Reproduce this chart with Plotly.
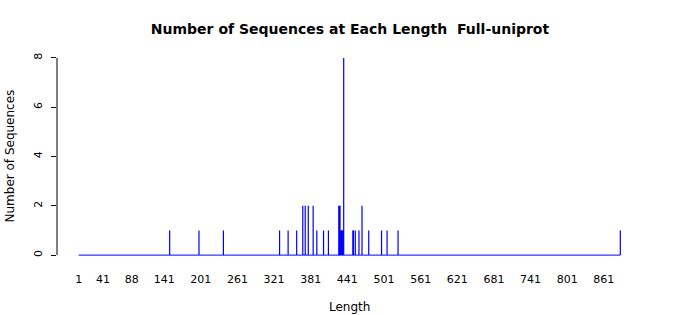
import plotly.graph_objects as go

# Data
lengths = [150, 198, 238, 330, 344, 358, 368, 372, 377, 385, 391, 402, 410,
           427, 428, 429, 430, 431, 432, 433, 434, 435, 450, 451, 454, 460,
           465, 476, 497, 506, 524, 888]
counts = [1, 1, 1, 1, 1, 1, 2, 2, 2, 2, 1, 1, 1,
          2, 2, 2, 1, 1, 1, 1, 1, 8, 1, 1, 1, 1,
          2, 1, 1, 1, 1, 1]
min_len, max_len = 1, 888
x_tick_vals = [1, 41, 88, 141, 201, 261, 321, 381, 441, 501, 561, 621, 681, 741, 801, 861]
y_tick_vals = [0, 2, 4, 6, 8]

FONT = "DejaVu Sans"
BLUE = "#0000FF"
W, H = 700, 315

# Build "h"-type vertical line segments
xs, ys = [], []
for L, c in zip(lengths, counts):
    xs += [L, L, None]
    ys += [0, c, None]

fig = go.Figure()
fig.add_trace(go.Scatter(x=[min_len, max_len], y=[0, 0], mode="lines",
                         line=dict(color=BLUE, width=1), hoverinfo="skip",
                         showlegend=False))
fig.add_trace(go.Scatter(x=xs, y=ys, mode="lines",
                         line=dict(color=BLUE, width=1.2), showlegend=False))

span_x = max_len - min_len
ymax = max(y_tick_vals)
fig.update_layout(
    width=W, height=H,
    margin=dict(l=57, r=58, t=50, b=52, autoexpand=False),
    paper_bgcolor="white", plot_bgcolor="white",
    font=dict(family=FONT, size=11, color="black"),
    title=dict(text="<b>Number of Sequences at Each Length  Full-uniprot</b>",
               x=0.5, xanchor="center", y=1 - 29 / H, yanchor="middle",
               font=dict(family=FONT, size=14, color="black")),
    xaxis=dict(range=[min_len - 0.04 * span_x, max_len + 0.04 * span_x],
               tickmode="array", tickvals=x_tick_vals,
               ticktext=[str(v) for v in x_tick_vals],
               showgrid=False, zeroline=False, showline=False,
               ticks="outside", ticklen=6, tickcolor="rgba(0,0,0,0)",
               tickfont=dict(size=11), automargin=False),
    yaxis=dict(range=[-0.04 * ymax, ymax * 1.04],
               tickmode="array", tickvals=y_tick_vals,
               ticktext=[str(v) for v in y_tick_vals],
               showgrid=False, zeroline=False, showline=False,
               ticks="outside", ticklen=5, tickcolor="black",
               tickangle=-90, tickfont=dict(size=11),
               ticklabelstandoff=5, automargin=False),
    shapes=[dict(type="line", xref="paper", x0=0, x1=0, yref="y", y0=0, y1=ymax,
                 line=dict(color="black", width=1))],
    annotations=[
        dict(text="Length", xref="paper", x=0.5, yref="paper",
             y=-(307 - (H - 52)) / (H - 50 - 52), xanchor="center", yanchor="middle",
             showarrow=False, font=dict(size=12)),
        dict(text="Number of Sequences", xref="paper", x=-(57 - 9) / (W - 57 - 58),
             yref="paper", y=0.5, xanchor="center", yanchor="middle",
             textangle=-90, showarrow=False, font=dict(size=12)),
    ],
)

fig.write_html("out.html")
